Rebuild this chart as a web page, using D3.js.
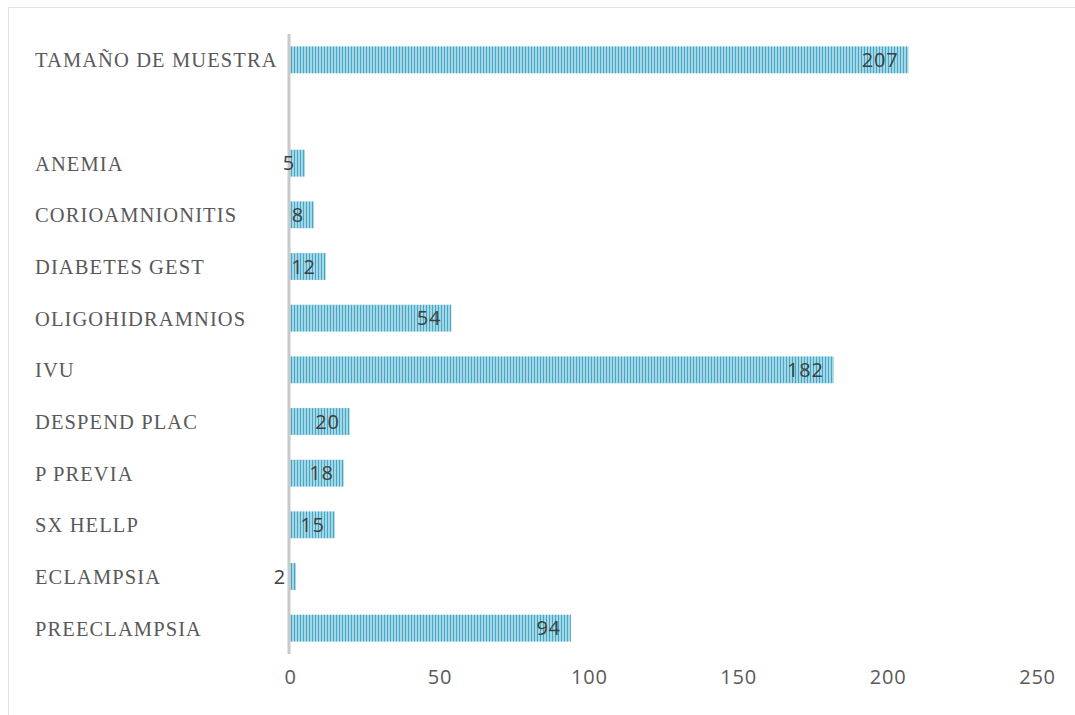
<!DOCTYPE html>
<html><head><meta charset="utf-8">
<script src="https://cdn.jsdelivr.net/npm/d3@7"></script>
<style>body{margin:0;background:#fff;}</style>
</head><body>
<svg id="c" width="1075" height="715"></svg>
<script>
const categories = ["TAMAÑO DE MUESTRA", "", "ANEMIA", "CORIOAMNIONITIS", "DIABETES GEST", "OLIGOHIDRAMNIOS", "IVU", "DESPEND PLAC", "P PREVIA", "SX HELLP", "ECLAMPSIA", "PREECLAMPSIA"];
const values = [207, null, 5, 8, 12, 54, 182, 20, 18, 15, 2, 94];
const xTicks = [0, 50, 100, 150, 200, 250];

const svg = d3.select("#c");
svg.append("rect").attr("x", 8.5).attr("y", 7.5).attr("width", 1100).attr("height", 800)
  .attr("fill", "none").attr("stroke", "#e3e3e3");

const defs = svg.append("defs");
const pat = defs.append("pattern").attr("id", "stripes").attr("patternUnits", "userSpaceOnUse")
  .attr("width", 3).attr("height", 10);
pat.append("rect").attr("width", 3).attr("height", 10).attr("fill", "#a3d7e6");
pat.append("rect").attr("x", 0).attr("width", 1).attr("height", 10).attr("fill", "#45a7c4");

const x = d3.scaleLinear().domain([0, 250]).range([290, 1037]);
const y = d3.scaleBand().domain(d3.range(categories.length)).range([34, 654]).paddingInner(0.48).paddingOuter(0.24);

const data = categories.map((c, i) => ({c, v: values[i], i}));

svg.append("g").selectAll("rect").data(data.filter(d => d.v != null)).join("rect")
  .attr("x", x(0)).attr("y", d => y(d.i)).attr("width", d => x(d.v) - x(0)).attr("height", y.bandwidth())
  .attr("fill", "url(#stripes)");

// axis line
svg.append("line").attr("x1", x(0) - 1).attr("x2", x(0) - 1).attr("y1", 34).attr("y2", 654)
  .attr("stroke", "#c9c9c9").attr("stroke-width", 3);

// category labels
svg.append("g").selectAll("text").data(data).join("text")
  .attr("x", 35).attr("y", d => y(d.i) + y.bandwidth() / 2).attr("dy", "0.36em")
  .attr("font-family", "Liberation Serif, serif").attr("font-size", 20.5).attr("fill", "#595959")
  .attr("letter-spacing", 1.1)
  .text(d => d.c);

// data labels
svg.append("g").selectAll("text").data(data.filter(d => d.v != null)).join("text")
  .attr("x", d => x(d.v) - 10).attr("y", d => y(d.i) + y.bandwidth() / 2).attr("dy", "0.36em")
  .attr("text-anchor", "end")
  .attr("font-family", "Open Sans, sans-serif").attr("font-size", 20).attr("fill", "#404040")
  .attr("letter-spacing", 0.8)
  .text(d => d.v);

// x tick labels
const xAxis = d3.axisBottom(x).tickValues(xTicks).tickSize(0).tickPadding(0);
const g = svg.append("g").attr("transform", "translate(0,670)").call(xAxis);
g.select(".domain").remove();
g.selectAll("text").attr("font-family", "Open Sans, sans-serif").attr("font-size", 20).attr("fill", "#595959")
  .attr("letter-spacing", 0.8).attr("dy", "0.71em");
</script>
</body></html>
